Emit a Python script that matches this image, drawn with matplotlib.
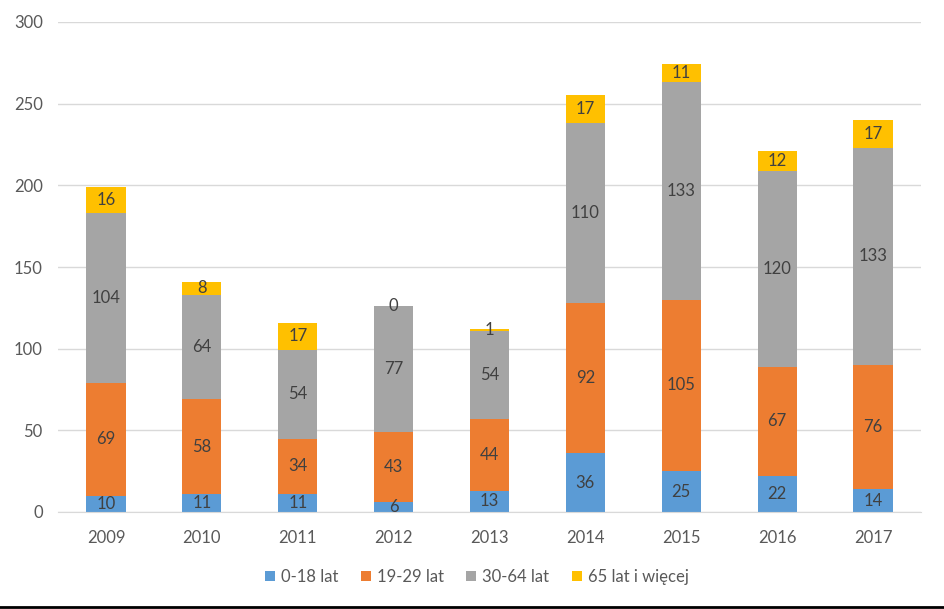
import matplotlib.pyplot as plt
import matplotlib.lines as mlines
import numpy as np

plt.rcParams['font.family'] = ['Lato', 'DejaVu Sans']

years = ['2009', '2010', '2011', '2012', '2013', '2014', '2015', '2016', '2017']
age_0_18 = [10, 11, 11, 6, 13, 36, 25, 22, 14]
age_19_29 = [69, 58, 34, 43, 44, 92, 105, 67, 76]
age_30_64 = [104, 64, 54, 77, 54, 110, 133, 120, 133]
age_65 = [16, 8, 17, 0, 1, 17, 11, 12, 17]

series = [age_0_18, age_19_29, age_30_64, age_65]
labels = ['0-18 lat', '19-29 lat', '30-64 lat', '65 lat i więcej']
colors = ['#5B9BD5', '#ED7D31', '#A5A5A5', '#FFC000']

fig = plt.figure(figsize=(9.45, 6.09), dpi=100)
ax = fig.add_axes([58 / 945, 97 / 609, 863 / 945, 490 / 609])

x = np.arange(len(years))
bottom = np.zeros(len(years))
for vals, lab, col in zip(series, labels, colors):
    vals = np.array(vals)
    ax.bar(x, vals, 0.41, bottom=bottom, color=col, label=lab, zorder=2)
    for xi, b, v in zip(x, bottom, vals):
        ax.text(xi, b + v / 2, str(v), ha='center', va='center',
                fontsize=12, color='#404040', zorder=3)
    bottom += vals

ax.set_xlim(-0.5, len(years) - 0.5)
ax.set_ylim(0, 300)
ax.set_yticks(range(0, 301, 50))
ax.set_xticks(x)
ax.set_xticklabels(years)
ax.yaxis.grid(True, color='#D9D9D9', linewidth=1, zorder=0)
for s in ['top', 'right', 'left']:
    ax.spines[s].set_visible(False)
ax.spines['bottom'].set_color('#D9D9D9')
ax.tick_params(axis='both', length=0, labelsize=12, colors='#595959')
ax.tick_params(axis='x', pad=13)
ax.tick_params(axis='y', pad=11)

# legenda pod wykresem
ax.legend(loc='center', bbox_to_anchor=(477 / 945, 32 / 609), bbox_transform=fig.transFigure,
          ncol=4, frameon=False, fontsize=12, handlelength=0.6, handleheight=0.6,
          handletextpad=0.35, columnspacing=1.35, labelcolor='#595959')

# czarna linia na dole obrazka
fig.add_artist(mlines.Line2D([0, 1], [2 / 609, 2 / 609], color='black', linewidth=2,
                             transform=fig.transFigure))

fig.savefig('out.png', dpi=100)
